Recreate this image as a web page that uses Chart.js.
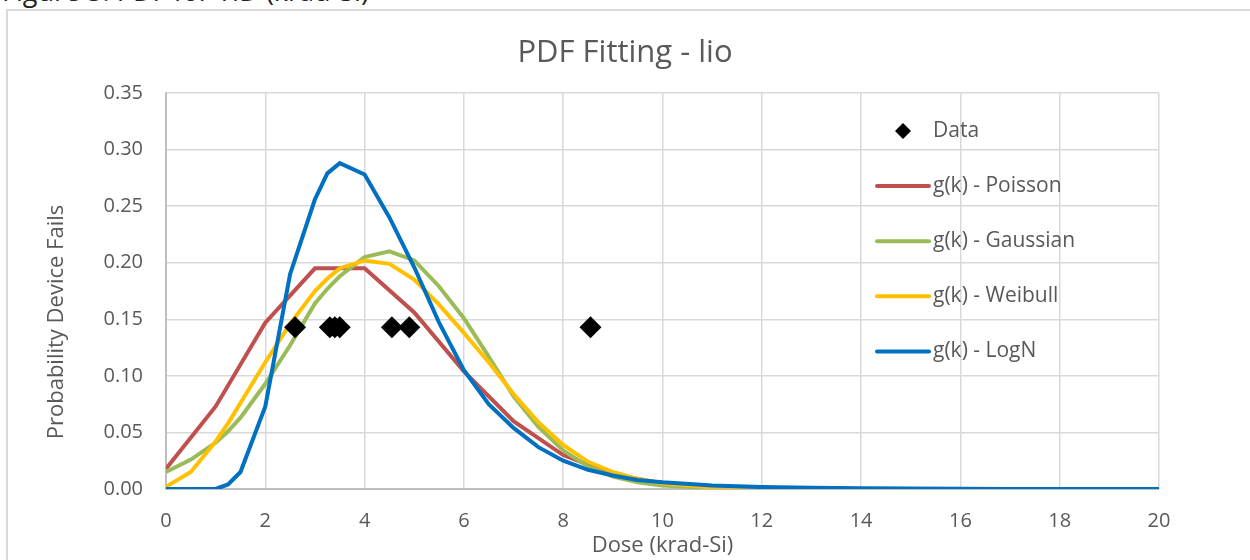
<!DOCTYPE html>
<html>
<head>
<meta charset="utf-8">
<title>PDF Fitting - lio</title>
<script src="https://cdn.jsdelivr.net/npm/chart.js@4.4.1/dist/chart.umd.min.js"></script>
<style>
    html, body { margin: 0; padding: 0; background: #fff; overflow: hidden; }
    #wrap { position: relative; width: 1250px; height: 560px; overflow: hidden; }
    #caption { position: absolute; left: 2px; top: -23px; font: 27px "Open Sans", sans-serif; line-height: 28px; color: #222; white-space: nowrap; }
    #frame { position: absolute; left: 6px; top: 9px; width: 1300px; height: 600px; border: 2px solid #d9d9d9; }
    #chart { position: absolute; left: 0; top: 0; }
</style>
</head>
<body>
<div id="wrap">
    <div id="caption">Figure 5: PDF for TID (krad-Si)</div>
    <div id="frame"></div>
    <canvas id="chart" width="1250" height="560"></canvas>
</div>
<script>
// Dose samples used by the fitted curves
const doseX = [0, 0.5, 1, 1.25, 1.5, 2, 2.5, 3, 3.25, 3.5, 4, 4.5, 5, 5.5, 6, 6.5, 7, 7.5, 8, 8.5,
               9, 9.5, 10, 11, 12, 13, 14, 15, 16, 17, 18, 19, 20];
const gaussianY = [0.015, 0.026, 0.041, 0.051, 0.063, 0.093, 0.127, 0.164, 0.177, 0.188,
                   0.205, 0.210, 0.202, 0.179, 0.151, 0.117, 0.082, 0.055, 0.034, 0.020,
                   0.011, 0.006, 0.003, 0.0008, 0.0002, 0, 0, 0, 0, 0, 0, 0, 0];
const weibullY = [0.002, 0.015, 0.042, 0.058, 0.076, 0.112, 0.146, 0.175, 0.186, 0.195,
                  0.202, 0.199, 0.185, 0.163, 0.138, 0.112, 0.084, 0.059, 0.039, 0.024,
                  0.015, 0.009, 0.005, 0.0015, 0.0004, 0.0001, 0, 0, 0, 0, 0, 0, 0];
const lognY = [0, 0, 0, 0.004, 0.015, 0.073, 0.190, 0.256, 0.279, 0.288,
               0.278, 0.240, 0.196, 0.147, 0.105, 0.075, 0.054, 0.037, 0.025, 0.017,
               0.012, 0.008, 0.006, 0.003, 0.0017, 0.001, 0.0006, 0.0004, 0.0002, 0.0001, 0.0001, 0.0001, 0.0001];

// Poisson is sampled at whole numbers
const poissonX = [0, 1, 2, 3, 4, 5, 6, 7, 8, 9, 10, 11, 12, 13, 14, 15, 16, 17, 18, 19, 20];
const poissonY = [0.018, 0.073, 0.147, 0.195, 0.195, 0.156, 0.104, 0.060, 0.030, 0.013,
                  0.005, 0.002, 0.0006, 0.0002, 0.0001, 0, 0, 0, 0, 0, 0];

// Measured failures
const dataX = [2.6, 3.3, 3.4, 3.5, 4.55, 4.9, 8.55];
const dataY = [0.143, 0.143, 0.143, 0.143, 0.143, 0.143, 0.143];

const seriesLabels = ['Data', 'g(k) - Poisson', 'g(k) - Gaussian', 'g(k) - Weibull', 'g(k) - LogN'];
const seriesColors = ['#000000', '#c0504d', '#9bbb59', '#ffc000', '#0070c0'];

const pts = (xs, ys) => xs.map((x, i) => ({ x: x, y: ys[i] }));
const textColor = '#595959';
const fontFamily = '"Open Sans", sans-serif';

Chart.defaults.font.family = fontFamily;
Chart.defaults.color = textColor;

// Title, y-axis title and the legend are drawn by hand to sit where Excel put them
const decorations = {
    id: 'decorations',
    afterDatasetsDraw(chart) {
        const ctx = chart.ctx;
        ctx.save();
        ctx.fillStyle = textColor;
        ctx.textBaseline = 'middle';

        // chart title
        ctx.textAlign = 'center';
        ctx.font = '31px ' + fontFamily;
        ctx.fillText('PDF Fitting - lio', 625, 53);

        // y-axis title
        ctx.save();
        ctx.translate(57, 322);
        ctx.rotate(-Math.PI / 2);
        ctx.font = '22px ' + fontFamily;
        ctx.fillText('Probability Device Fails', 0, 0);
        ctx.restore();

        // legend
        ctx.textAlign = 'left';
        ctx.font = '21px ' + fontFamily;
        chart.data.datasets.forEach((ds, i) => {
            const y = 131 + i * 55.1;
            if (ds.showLine === false) {
                ctx.fillStyle = ds.backgroundColor;
                ctx.beginPath();
                ctx.moveTo(903, y - 8);
                ctx.lineTo(911, y);
                ctx.lineTo(903, y + 8);
                ctx.lineTo(895, y);
                ctx.closePath();
                ctx.fill();
            } else {
                ctx.strokeStyle = ds.borderColor;
                ctx.lineWidth = 4;
                ctx.lineCap = 'round';
                ctx.beginPath();
                ctx.moveTo(877, y);
                ctx.lineTo(929, y);
                ctx.stroke();
            }
            ctx.fillStyle = textColor;
            ctx.fillText(ds.label, 933, y);
        });
        ctx.restore();
    }
};

function curve(i, xs, ys, order) {
    return {
        label: seriesLabels[i],
        data: pts(xs, ys),
        showLine: true,
        borderColor: seriesColors[i],
        backgroundColor: seriesColors[i],
        borderWidth: 4,
        pointRadius: 0,
        tension: 0,
        order: order
    };
}

new Chart(document.getElementById('chart').getContext('2d'), {
    type: 'scatter',
    data: {
        datasets: [
            {
                label: seriesLabels[0],
                data: pts(dataX, dataY),
                showLine: false,
                pointStyle: 'rectRot',
                pointRadius: 11,
                pointHoverRadius: 11,
                backgroundColor: seriesColors[0],
                borderColor: seriesColors[0],
                borderWidth: 0,
                order: 0
            },
            curve(1, poissonX, poissonY, 4),
            curve(2, doseX, gaussianY, 3),
            curve(3, doseX, weibullY, 2),
            curve(4, doseX, lognY, 1)
        ]
    },
    options: {
        responsive: false,
        animation: false,
        layout: { padding: { left: 0, right: 91, top: 93, bottom: 0 } },
        plugins: {
            legend: { display: false },
            title: { display: false },
            tooltip: { enabled: false }
        },
        scales: {
            x: {
                type: 'linear',
                min: 0,
                max: 20,
                ticks: { stepSize: 2, padding: 20, font: { size: 20 }, color: textColor },
                grid: { color: '#d9d9d9', lineWidth: 1.5, drawTicks: false },
                border: { color: '#bfbfbf', width: 2 },
                title: { display: true, text: 'Dose (krad-Si)', font: { size: 22 }, color: textColor, padding: { top: 0, bottom: 1 } },
                afterFit: s => { s.height = 71; }
            },
            y: {
                min: 0,
                max: 0.35,
                ticks: { stepSize: 0.05, padding: 23, font: { size: 20 }, color: textColor,
                         callback: v => v.toFixed(2) },
                grid: { color: '#d9d9d9', lineWidth: 1.5, drawTicks: false },
                border: { color: '#bfbfbf', width: 2 },
                afterFit: s => { s.width = 166; }
            }
        }
    },
    plugins: [decorations]
});
</script>
</body>
</html>
